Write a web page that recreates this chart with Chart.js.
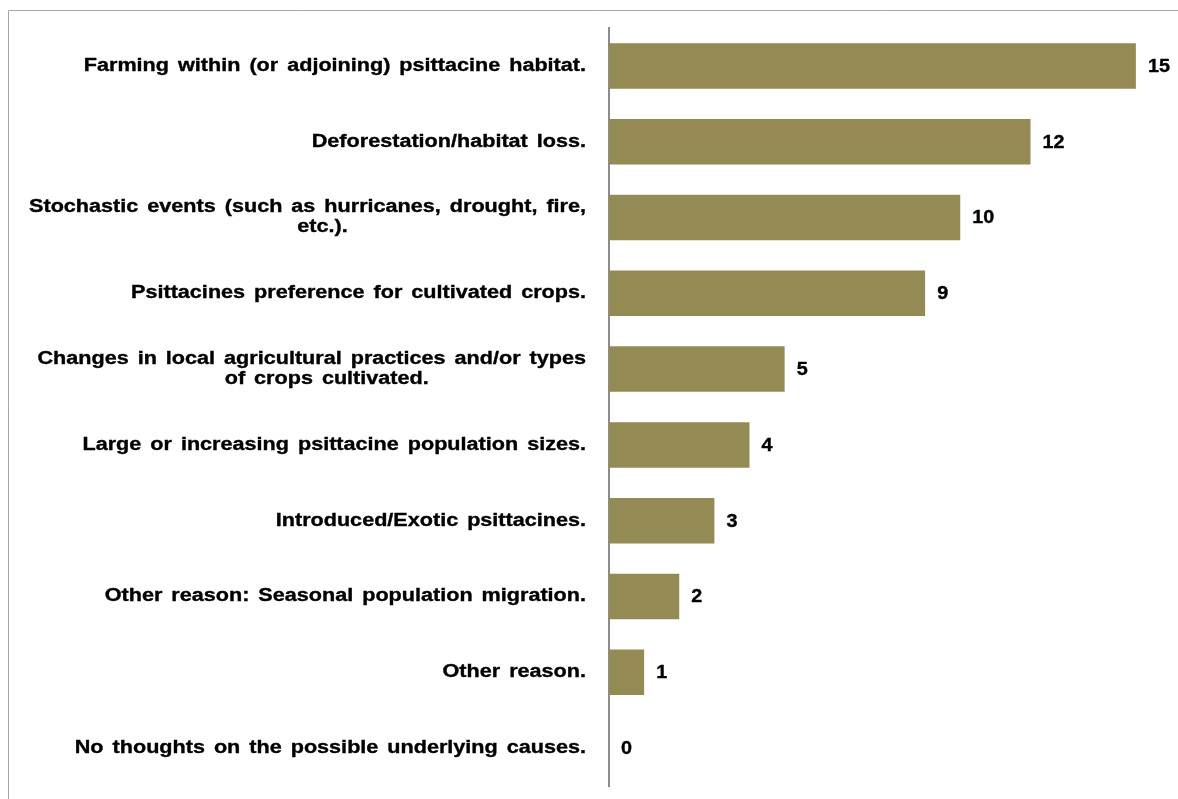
<!DOCTYPE html>
<html>
<head>
<meta charset="utf-8">
<script src="https://cdn.jsdelivr.net/npm/chart.js@4.4.0/dist/chart.umd.min.js"></script>
<style>
  html, body { margin: 0; padding: 0; background: #fff; }
  #wrap { width: 1178px; height: 799px; position: relative; }
</style>
</head>
<body>
<div id="wrap"><canvas id="mycanvas" width="1178" height="799"></canvas></div>
<script>
// categories (each entry is one label; arrays are wrapped lines)
var causes = [
  ['Farming within (or adjoining) psittacine habitat.'],
  ['Deforestation/habitat loss.'],
  ['Stochastic events (such as hurricanes, drought, fire,', 'etc.).'],
  ['Psittacines preference for cultivated crops.'],
  ['Changes in local agricultural practices and/or types', 'of crops cultivated.'],
  ['Large or increasing psittacine population sizes.'],
  ['Introduced/Exotic psittacines.'],
  ['Other reason: Seasonal population migration.'],
  ['Other reason.'],
  ['No thoughts on the possible underlying causes.']
];
var counts = [15, 12, 10, 9, 5, 4, 3, 2, 1, 0];

var font = 'bold 18px "Liberation Sans", Arial, sans-serif';

// draw text a bit wider and heavier, like the original rendering
function wideText(c, text, x, y, align, sx) {
  c.save();
  c.translate(x, y);
  c.scale(sx, 1);
  c.textAlign = align;
  c.fillText(text, 0, 0);
  c.strokeText(text, 0, 0);
  c.restore();
}

// frame, category labels and value labels
var extras = {
  id: 'extras',
  beforeDraw: function(chart) {
    var c = chart.ctx;
    c.save();
    c.strokeStyle = '#a6a6a6';
    c.lineWidth = 1;
    c.beginPath();
    c.moveTo(8.5, 799);
    c.lineTo(8.5, 10.5);
    c.lineTo(1178, 10.5);
    c.stroke();
    c.restore();
  },
  afterDraw: function(chart) {
    var c = chart.ctx;
    var y = chart.scales.y;
    var meta = chart.getDatasetMeta(0);
    c.save();
    c.font = font;
    c.fillStyle = '#000';
    c.strokeStyle = '#000';
    c.lineWidth = 0.35;
    c.textBaseline = 'middle';
    try { c.wordSpacing = '2.5px'; } catch (e) {}
    for (var i = 0; i < causes.length; i++) {
      var lines = causes[i];
      var cy = y.getPixelForValue(i);
      var lh = 20;
      var y0 = cy - (lines.length - 1) * lh / 2;
      var w0 = c.measureText(lines[0]).width * 1.2;
      for (var j = 0; j < lines.length; j++) {
        if (j === 0) {
          wideText(c, lines[j], 586, y0, 'right', 1.2);
        } else {
          wideText(c, lines[j], 586 - w0 / 2 + 15, y0 + j * lh, 'center', 1.2);
        }
      }
      var bar = meta.data[i];
      wideText(c, String(counts[i]), bar.x + 12, cy + 1, 'left', 1.1);
    }
    c.restore();
  }
};

var ctx = document.getElementById('mycanvas');
var barGraph = new Chart(ctx, {
  type: 'bar',
  data: {
    labels: causes.map(function(l) { return l.join(' '); }),
    datasets: [{
      data: counts,
      backgroundColor: '#948a54',
      borderWidth: 0,
      categoryPercentage: 0.6,
      barPercentage: 1
    }]
  },
  options: {
    indexAxis: 'y',
    responsive: false,
    animation: false,
    layout: { padding: { left: 0, right: 7, top: 28, bottom: 13 } },
    plugins: { legend: { display: false }, tooltip: { enabled: false } },
    scales: {
      x: {
        display: false,
        min: 0,
        max: 16
      },
      y: {
        ticks: { display: false },
        grid: { display: false, drawTicks: false },
        border: { display: true, color: '#8c8c8c', width: 2 },
        afterFit: function(scale) { scale.width = 609; }
      }
    }
  },
  plugins: [extras]
});
</script>
</body>
</html>
